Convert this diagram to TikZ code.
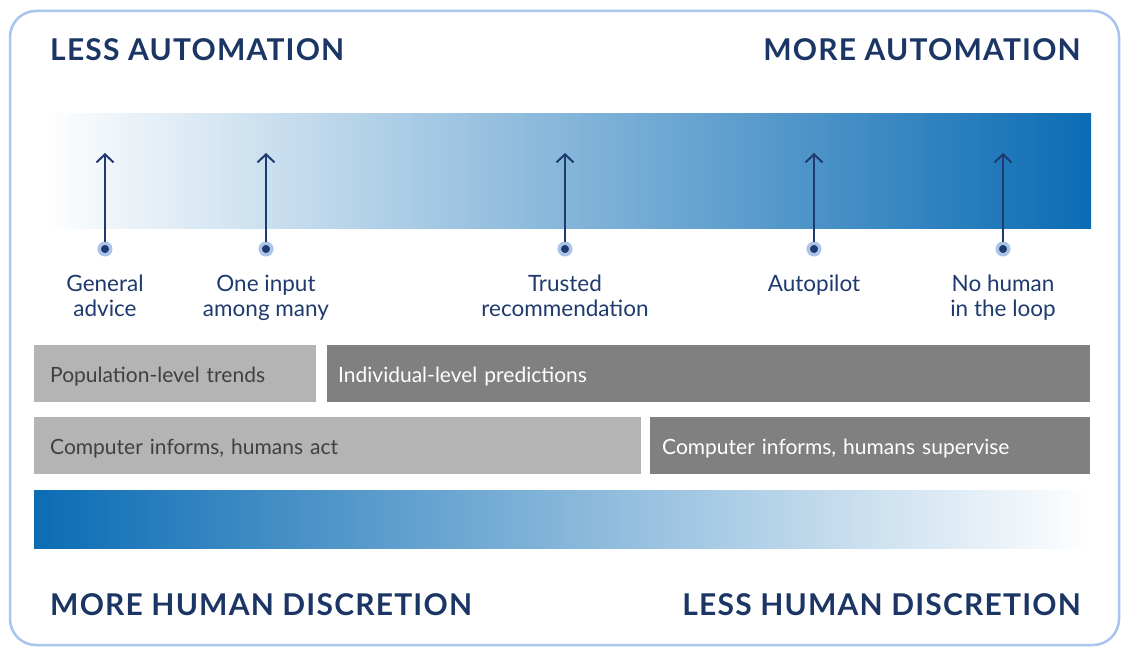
\documentclass[tikz,border=0pt]{standalone}
\usepackage{fontspec}
\setmainfont{Lato}
\usetikzlibrary{arrows.meta,positioning}
\definecolor{navy}{HTML}{1F3A6E}
\definecolor{headblue}{HTML}{1B3564}
\definecolor{bandblue}{HTML}{0B6CB4}
\definecolor{glow}{HTML}{A9C4E8}
\definecolor{frameblue}{HTML}{A8C4EF}
\definecolor{lightgray}{HTML}{B4B4B4}
\definecolor{darkgray}{HTML}{808080}
\definecolor{graytext}{HTML}{404040}
\begin{document}
\begin{tikzpicture}[x=1pt,y=-1pt,
    heading/.style={font=\bfseries\fontsize{30}{34}\selectfont\addfontfeature{LetterSpace=4}, text=headblue, inner sep=0pt},
    dot/.style={circle, fill=navy, draw=glow, line width=3.5pt, inner sep=0pt, minimum size=11.5pt},
    pointer/.style={draw=navy, line width=2.2pt, -{Straight Barb[length=8pt,width=17pt,line width=2pt]}},
    label/.style={font=\fontsize{22.5}{25}\selectfont, text=navy, align=center, anchor=north, inner sep=0pt},
    box/.style={font=\fontsize{21}{24}\selectfont, anchor=north west, minimum height=57pt, inner xsep=16pt,
        text height=21pt, text depth=4pt, align=left},
    lightbox/.style={box, fill=lightgray, text=graytext},
    darkbox/.style={box, fill=darkgray, text=white}]
    \useasboundingbox (0,0) rectangle (1121,647);
    \draw[frameblue, line width=2.5pt, rounded corners=26pt] (10,11) rectangle (1119,645);
    % headings
    \node[heading, anchor=base west] (less) at (50,61) {LESS AUTOMATION};
    \node[heading, anchor=base east] (more) at (1081,61) {MORE AUTOMATION};
    \node[heading, anchor=base west] (morehd) at (50,615) {MORE HUMAN DISCRETION};
    \node[heading, anchor=base east] (lesshd) at (1081,615) {LESS HUMAN DISCRETION};
    % bands
    \shade[left color=white, right color=bandblue] (42,114) rectangle (1091,228);
    \shade[left color=bandblue, right color=white] (34,490) rectangle (1091,548);
    % arrows
    \node[dot] (d1) at (105,249) {};
    \node[dot] (d2) at (266,249) {};
    \node[dot] (d3) at (565,249) {};
    \node[dot] (d4) at (814,249) {};
    \node[dot] (d5) at (1003,249) {};
    \coordinate (t1) at (105,153);
    \coordinate (t2) at (266,153);
    \coordinate (t3) at (565,153);
    \coordinate (t4) at (814,153);
    \coordinate (t5) at (1003,153);
    \draw[pointer] (d1) -- (t1);
    \draw[pointer] (d2) -- (t2);
    \draw[pointer] (d3) -- (t3);
    \draw[pointer] (d4) -- (t4);
    \draw[pointer] (d5) -- (t5);
    \node[label, below=18pt of d1] (general) {General\\advice};
    \node[label, below=18pt of d2] (input) {One input\\among many};
    \node[label, below=18pt of d3] (trusted) {Trusted\\recommendation};
    \node[label, below=18pt of d4] (auto) {Autopilot};
    \node[label, below=18pt of d5] (nohuman) {No human\\in the loop};
    % boxes
    \node[lightbox, minimum width=282pt, text width=250pt] (pop) at (34,345) {Population-level trends};
    \node[darkbox, minimum width=763pt, text width=741pt, inner xsep=11pt] (ind) at (327,345) {Individual-level predictions};
    \node[lightbox, minimum width=607pt, text width=575pt] (act) at (34,417) {Computer informs, humans act};
    \node[darkbox, minimum width=440pt, text width=416pt, inner xsep=12pt] (sup) at (650,417) {Computer informs, humans supervise};
\end{tikzpicture}
\end{document}
